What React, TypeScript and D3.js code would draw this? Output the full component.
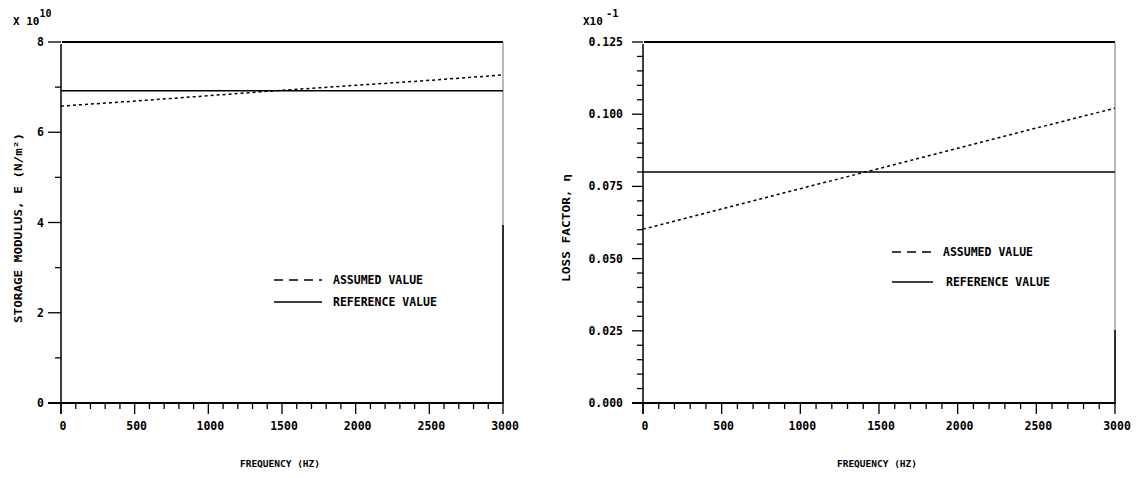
import { useEffect, useRef } from 'react'
import * as d3 from 'd3'

// frequency samples (Hz)
const freq = [0, 500, 1000, 1500, 2000, 2500, 3000]

// storage modulus, x 10^10 N/m^2
const modulusAssumed = [6.58, 6.69, 6.81, 6.93, 7.04, 7.15, 7.27]
const modulusReference = [6.92, 6.92, 6.92, 6.92, 6.92, 6.92, 6.92]
const modulusTicks = [0, 2, 4, 6, 8]

// loss factor (x 10^-1 as printed on the axis)
const lossAssumed = [0.0602, 0.0672, 0.0742, 0.0812, 0.0882, 0.0952, 0.1021]
const lossReference = [0.08, 0.08, 0.08, 0.08, 0.08, 0.08, 0.08]
const lossTicks = [0, 0.025, 0.05, 0.075, 0.1, 0.125]

const freqTicks = [0, 500, 1000, 1500, 2000, 2500, 3000]

const legendLabels = ['ASSUMED VALUE', 'REFERENCE VALUE']

const FONT = '"DejaVu Sans Mono", monospace'

export default function App() {
  const svgRef = useRef(null)

  useEffect(() => {
    const svg = d3.select(svgRef.current)
    svg.selectAll('*').remove()

    const panel = (opt) => {
      const { x0, x1, yDomain, majors, minorStep, fmt, assumed, reference,
        title, tickLabelRight, majorLen, legend, rightSolidFrom } = opt
      const x = d3.scaleLinear().domain([0, 3000]).range([x0, x1])
      const y = d3.scaleLinear().domain(yDomain).range([403, 42])
      const g = svg.append('g')

      // minor y ticks
      const minors = d3.range(yDomain[0], yDomain[1] + 1e-9, minorStep)
        .filter(v => !majors.some(m => Math.abs(m - v) < 1e-9))
      g.selectAll('.ymin').data(minors).enter().append('line')
        .attr('x1', x0 - 6).attr('x2', x0)
        .attr('y1', d => y(d)).attr('y2', d => y(d))
        .attr('stroke', '#000').attr('stroke-width', 1.3)
      g.selectAll('.ymaj').data(majors).enter().append('line')
        .attr('x1', x0 - majorLen).attr('x2', x0)
        .attr('y1', d => y(d)).attr('y2', d => y(d))
        .attr('stroke', '#000').attr('stroke-width', 1.3)
      g.selectAll('.ylab').data(majors).enter().append('text')
        .attr('x', tickLabelRight).attr('y', d => y(d) + 4)
        .attr('text-anchor', 'end')
        .attr('font-family', FONT).attr('font-weight', 'bold').attr('font-size', 11.5)
        .text(d => fmt(d))

      // x ticks
      const xMinor = d3.range(100, 3000, 100).filter(v => v % 500 !== 0)
      g.selectAll('.xmin').data(xMinor).enter().append('line')
        .attr('x1', d => x(d)).attr('x2', d => x(d))
        .attr('y1', 403).attr('y2', 409)
        .attr('stroke', '#000').attr('stroke-width', 1.3)
      g.selectAll('.xmaj').data(freqTicks).enter().append('line')
        .attr('x1', d => x(d)).attr('x2', d => x(d))
        .attr('y1', 403).attr('y2', 414)
        .attr('stroke', '#000').attr('stroke-width', 1.3)
      g.selectAll('.xlab').data(freqTicks).enter().append('text')
        .attr('x', d => x(d) + 2).attr('y', 430)
        .attr('text-anchor', 'middle')
        .attr('font-family', FONT).attr('font-weight', 'bold').attr('font-size', 11.5)
        .text(d => d)

      // frame
      g.append('line').attr('x1', x0).attr('x2', x0).attr('y1', 44).attr('y2', 414)
        .attr('stroke', '#000').attr('stroke-width', 1.5)
      g.append('line').attr('x1', x0 - majorLen).attr('x2', x1 + 1).attr('y1', 403).attr('y2', 403)
        .attr('stroke', '#000').attr('stroke-width', 2)
      g.append('line').attr('x1', x0 + 1).attr('x2', x1).attr('y1', 42).attr('y2', 42)
        .attr('stroke', '#000').attr('stroke-width', 2)
      g.append('line').attr('x1', x1).attr('x2', x1).attr('y1', 42).attr('y2', 403)
        .attr('stroke', '#777').attr('stroke-width', 1)
      g.append('line').attr('x1', x1).attr('x2', x1).attr('y1', rightSolidFrom).attr('y2', 404)
        .attr('stroke', '#000').attr('stroke-width', 1.5)

      // curves
      const line = d3.line().x((d, i) => x(freq[i])).y(d => y(d))
      g.append('path').datum(reference).attr('d', line)
        .attr('fill', 'none').attr('stroke', '#000').attr('stroke-width', 1.6)
      g.append('path').datum(assumed).attr('d', line)
        .attr('fill', 'none').attr('stroke', '#000').attr('stroke-width', 1.5)
        .attr('stroke-dasharray', '3,3')

      // axis titles
      g.append('text')
        .attr('x', (x0 + x1) / 2 - 2).attr('y', 467)
        .attr('text-anchor', 'middle')
        .attr('font-family', FONT).attr('font-weight', 'bold').attr('font-size', 9.5)
        .text('FREQUENCY (HZ)')
      g.append('text')
        .attr('transform', `translate(${title.x},${title.y}) rotate(-90)`)
        .attr('text-anchor', 'middle')
        .attr('font-family', FONT).attr('font-weight', 'bold').attr('font-size', 10)
        .attr('textLength', title.len).attr('lengthAdjust', 'spacingAndGlyphs')
        .text(title.text)

      // legend
      const lg = g.append('g')
      legend.rows.forEach((row, i) => {
        lg.append('line')
          .attr('x1', legend.sx0).attr('x2', legend.sx1)
          .attr('y1', row.y).attr('y2', row.y)
          .attr('stroke', '#000').attr('stroke-width', 1.6)
          .attr('stroke-dasharray', i === 0 ? '9,6' : null)
        lg.append('text')
          .attr('x', row.tx).attr('y', row.y + 4)
          .attr('font-family', FONT).attr('font-weight', 'bold').attr('font-size', 11.5)
          .text(legendLabels[i])
      })
    }

    panel({
      x0: 61, x1: 503, yDomain: [0, 8], majors: modulusTicks, minorStep: 1,
      fmt: d => String(d), assumed: modulusAssumed, reference: modulusReference,
      title: { x: 22, y: 228, text: 'STORAGE MODULUS, E (N/m²)', len: 190 },
      tickLabelRight: 44, majorLen: 13, rightSolidFrom: 225,
      legend: { sx0: 274, sx1: 322, rows: [{ y: 280, tx: 333 }, { y: 302, tx: 333 }] }
    })

    panel({
      x0: 643, x1: 1115, yDomain: [0, 0.125], majors: lossTicks, minorStep: 0.005,
      fmt: d3.format('.3f'), assumed: lossAssumed, reference: lossReference,
      title: { x: 570, y: 228, text: 'LOSS FACTOR, η', len: 108 },
      tickLabelRight: 623, majorLen: 11, rightSolidFrom: 330,
      legend: { sx0: 892, sx1: 933, rows: [{ y: 252, tx: 943 }, { y: 282, tx: 946 }] }
    })

    // exponent notes
    const ex1 = svg.append('text').attr('x', 13).attr('y', 25)
      .attr('font-family', FONT).attr('font-weight', 'bold').attr('font-size', 11)
    ex1.append('tspan').text('X 10')
    ex1.append('tspan').attr('dy', -8).attr('font-size', 10).text('10')

    const ex2 = svg.append('text').attr('x', 583).attr('y', 25)
      .attr('font-family', FONT).attr('font-weight', 'bold').attr('font-size', 11)
    ex2.append('tspan').text('X10')
    ex2.append('tspan').attr('dx', 3).attr('dy', -8).attr('font-size', 10.5).text('-1')
  }, [])

  return (
    <svg
      ref={svgRef}
      width={1137}
      height={478}
      style={{ position: 'absolute', left: 0, top: 0, background: '#fff' }}
    />
  )
}
